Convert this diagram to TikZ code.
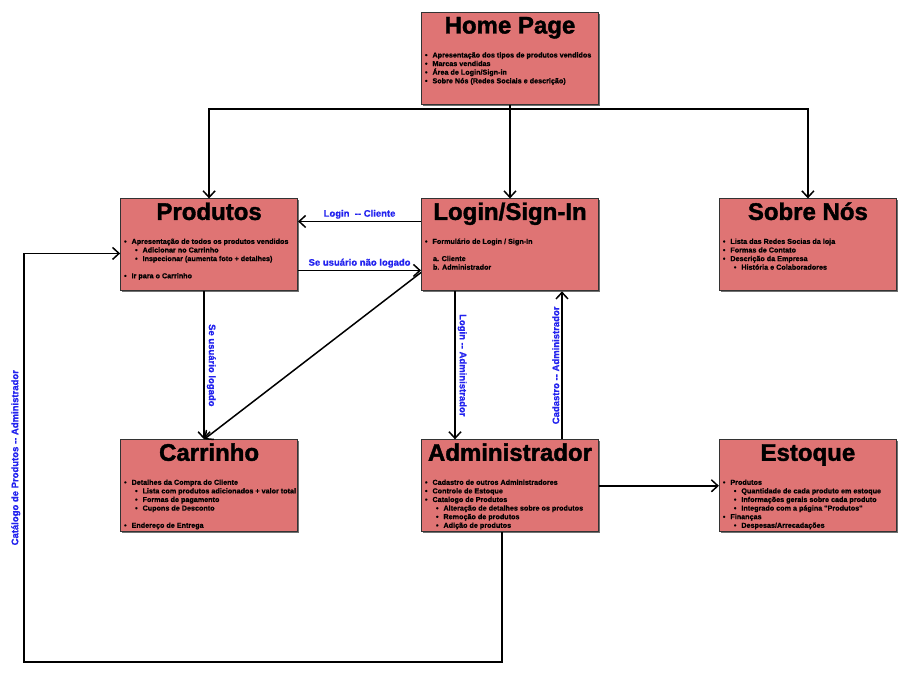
\documentclass[tikz,border=0pt]{standalone}
\usepackage{fontspec}
\setmainfont{Liberation Sans}
\newfontfamily\heavyfont{Liberation Sans}[BoldFeatures={FakeBold=1.6}]
\newfontfamily\itemfont{Liberation Sans}[BoldFeatures={FakeBold=0.8}]
\usetikzlibrary{arrows.meta, positioning, shadows}

\definecolor{pagered}{HTML}{DF7474}
\definecolor{linkblue}{HTML}{2222EE}

\newcommand{\pagetext}[2]{\parbox[t][92pt][t]{177pt}{\centering\heavyfont\fontsize{24}{24}\selectfont\bfseries\rule{0pt}{21pt}\smash{#1}\par
\raggedright\itemfont\fontsize{7.2}{8.6}\selectfont\bfseries\vspace{15.4pt}#2}}
\newcommand{\itm}[1]{\par\hspace*{3.5pt}\makebox[7.5pt][l]{\textbullet}#1}
\newcommand{\sitm}[1]{\par\hspace*{14.5pt}\makebox[7.5pt][l]{\textbullet}#1}
\newcommand{\nitm}[1]{\par\hspace*{11.5pt}#1}
\newcommand{\gap}{\par\vspace{8.6pt}}

\begin{document}
\begin{tikzpicture}
[
						node distance={93.5pt},
						pagebox/.style = {draw=black!80, line width=0.9pt, fill=pagered, inner sep=0pt, drop shadow={shadow xshift=1.4pt, shadow yshift=-1.4pt, fill=black!80, opacity=0.7}},
						linktext/.style = {text=linkblue, font=\itemfont\fontsize{9.5}{10}\selectfont\bfseries, inner sep=2pt},
						conn/.style = {draw, line width=1.5pt, -{Straight Barb[length=6.5pt, width=12pt]}}
					]
\useasboundingbox (0,0) rectangle (906pt,-676pt);
\node[pagebox] (home) at (510pt,-58.5pt) {\pagetext{Home Page}{\itm{Apresentação dos tipos de produtos vendidos}\itm{Marcas vendidas}\itm{Área de Login/Sign-in}\itm{Sobre Nós (Redes Sociais e descrição)}}};
\node[pagebox] (login) [below=of home] {\pagetext{Login/Sign-In}{\itm{Formulário de Login / Sign-In}\gap\nitm{a. Cliente}\nitm{b. Administrador}}};
\node[pagebox] (produtos) [left=123pt of login] {\pagetext{Produtos}{\itm{Apresentação de todos os produtos vendidos}\sitm{Adicionar no Carrinho}\sitm{Inspecionar (aumenta foto + detalhes)}\gap\itm{Ir para o Carrinho}}};
\node[pagebox] (sobre) [right=120pt of login] {\pagetext{Sobre Nós}{\itm{Lista das Redes Socias da loja}\itm{Formas de Contato}\itm{Descrição da Empresa}\sitm{História e Colaboradores}}};
\node[pagebox] (admin) [below=148pt of login] {\pagetext{Administrador}{\itm{Cadastro de outros Administradores}\itm{Controle de Estoque}\itm{Catalogo de Produtos}\sitm{Alteração de detalhes sobre os produtos}\sitm{Remoção de produtos}\sitm{Adição de produtos}}};
\node[pagebox] (carrinho) [left=123pt of admin] {\pagetext{Carrinho}{\itm{Detalhes da Compra do Cliente}\sitm{Lista com produtos adicionados + valor total}\sitm{Formas de pagamento}\sitm{Cupons de Desconto}\gap\itm{Endereço de Entrega}}};
\node[pagebox] (estoque) [right=120pt of admin] {\pagetext{Estoque}{\itm{Produtos}\sitm{Quantidade de cada produto em estoque}\sitm{Informações gerais sobre cada produto}\sitm{Integrado com a página "Produtos"}\itm{Finanças}\sitm{Despesas/Arrecadações}}};
\coordinate (bus) at ([yshift=-4pt]home.south);
\coordinate (catbot) at (24pt,-662pt);
\draw[conn] (home.south) -- (login.north);
\draw[conn] (bus) -| (produtos.north);
\draw[conn] (bus) -| (sobre.north);
\draw[conn] ([yshift=-23pt]login.north west) -- node[linktext, above] (lblcliente) {Login\ \ -{}- Cliente} ([yshift=-23pt]produtos.north east);
\draw[conn] ([yshift=-72pt]produtos.north east) -- node[linktext, above] (lblnaologado) {Se usuário não logado} ([yshift=-72pt]login.north west);
\draw[conn] ([yshift=-74pt]login.north west) -- ([xshift=-5pt]carrinho.north);
\draw[conn] ([xshift=-5pt]produtos.south) -- node[linktext, midway, rotate=-90, anchor=south] (lbllogado) {Se usuário logado} ([xshift=-5pt]carrinho.north);
\draw[conn] ([xshift=-55pt]login.south) -- node[linktext, midway, rotate=-90, anchor=south] (lbladmlogin) {Login -{}- Administrador} ([xshift=-55pt]admin.north);
\draw[conn] ([xshift=52pt]admin.north) -- node[linktext, midway, rotate=90, anchor=south] (lblcadastro) {Cadastro -{}- Administrador} ([xshift=52pt]login.south);
\draw[conn] (admin) -- (estoque);
\draw[conn] ([xshift=-8pt]admin.south) |- (catbot) |- node[linktext, pos=0.25, rotate=90, anchor=south, inner sep=3pt] (lblcatalogo) {Catálogo de Produtos -{}- Administrador} ([yshift=-55pt]produtos.north west);
\end{tikzpicture}
\end{document}
